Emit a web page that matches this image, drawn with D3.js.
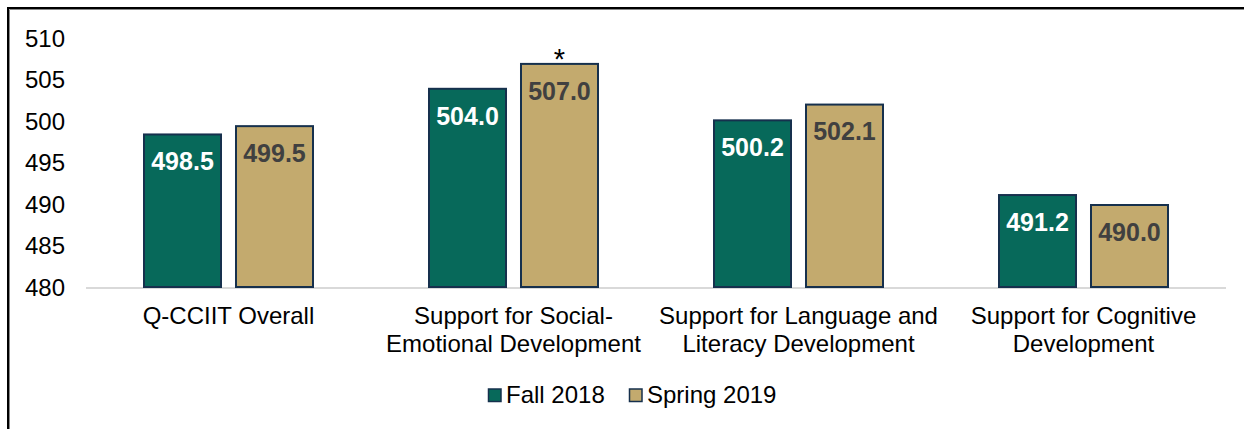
<!DOCTYPE html>
<html>
<head>
<meta charset="utf-8">
<script src="https://cdn.jsdelivr.net/npm/d3@7"></script>
<style>
  html, body { margin: 0; padding: 0; background: #fff; }
  svg { display: block; }
  text { font-family: "Liberation Sans", Arial, sans-serif; }
</style>
</head>
<body>
<svg id="chart" width="1244" height="429"></svg>
<script>
// Q-CCIIT scores by domain, two waves
const categories = [
  ["Q-CCIIT Overall"],
  ["Support for Social-", "Emotional Development"],
  ["Support for Language and", "Literacy Development"],
  ["Support for Cognitive", "Development"]
];
const seriesNames = ["Fall 2018", "Spring 2019"];
const fall2018 = [498.5, 504.0, 500.2, 491.2];
const spring2019 = [499.5, 507.0, 502.1, 490.0];
const significant = [false, true, false, false]; // marked with * on the Spring bar
const yTicks = [480, 485, 490, 495, 500, 505, 510];

const colors = { "Fall 2018": "#07695a", "Spring 2019": "#c3aa6e" };
const labelColors = { "Fall 2018": "#ffffff", "Spring 2019": "#404040" };
const barStroke = "#16304d";
const textSize = 24;

const svg = d3.select("#chart");

// outer frame
svg.append("rect").attr("x", 8).attr("y", 8).attr("width", 1260).attr("height", 450)
  .attr("fill", "none").attr("stroke", "#000").attr("stroke-width", 2);
svg.append("path").attr("d", "M9.5,1244V9.5H1244")
  .attr("fill", "none").attr("stroke", "#888").attr("stroke-width", 1);

const plotLeft = 86, plotRight = 1226;
const y = d3.scaleLinear().domain([480, 510]).range([287, 38]);
const x0 = d3.scaleBand().domain(d3.range(categories.length)).range([plotLeft, plotRight]).padding(0);
const groupW = 171;
const x1 = d3.scaleBand().domain(seriesNames).range([0, groupW]).paddingInner(0.1413).paddingOuter(0);

// y axis labels (no axis line)
const yAxis = d3.axisLeft(y).tickValues(yTicks).tickSize(0).tickPadding(0);
const gy = svg.append("g").attr("transform", "translate(65,0)").call(yAxis);
gy.select(".domain").remove();
gy.selectAll("text").attr("font-size", textSize).attr("fill", "#000")
  .attr("font-family", "'Liberation Sans', Arial, sans-serif").attr("dy", "0.35em");

// baseline
svg.append("line").attr("x1", plotLeft).attr("x2", plotRight)
  .attr("y1", y(480) + 1).attr("y2", y(480) + 1)
  .attr("stroke", "#d9d9d9").attr("stroke-width", 2);

const rows = categories.map((c, i) => ({
  i,
  values: [
    { key: "Fall 2018", v: fall2018[i] },
    { key: "Spring 2019", v: spring2019[i] }
  ]
}));

const groups = svg.selectAll("g.grp").data(rows).join("g")
  .attr("class", "grp")
  .attr("transform", d => `translate(${x0(d.i) + x0.bandwidth() / 2 - groupW / 2},0)`);

groups.selectAll("rect").data(d => d.values).join("rect")
  .attr("x", d => x1(d.key) + 1)
  .attr("y", d => y(d.v) + 1)
  .attr("width", x1.bandwidth() - 2)
  .attr("height", d => y(480) - y(d.v) - 1)
  .attr("fill", d => colors[d.key])
  .attr("stroke", barStroke).attr("stroke-width", 2);

groups.selectAll("text.val").data(d => d.values).join("text")
  .attr("class", "val")
  .attr("x", d => x1(d.key) + x1.bandwidth() / 2)
  .attr("y", d => y(d.v) + 28)
  .attr("dy", "0.35em")
  .attr("text-anchor", "middle")
  .attr("font-size", 25).attr("font-weight", "bold")
  .attr("fill", d => labelColors[d.key])
  .text(d => d3.format(".1f")(d.v));

// significance marker
groups.filter(d => significant[d.i]).append("text")
  .attr("x", x1("Spring 2019") + x1.bandwidth() / 2)
  .attr("y", d => y(d.values[1].v) + 6)
  .attr("text-anchor", "middle")
  .attr("font-size", 29).attr("fill", "#000")
  .text("*");

// category labels
categories.forEach((lines, i) => {
  const cx = x0(i) + x0.bandwidth() / 2;
  const t = svg.append("text")
    .attr("x", cx)
    .attr("y", 324)
    .attr("text-anchor", "middle")
    .attr("font-size", textSize).attr("fill", "#000");
  lines.forEach((ln, k) => {
    t.append("tspan").attr("x", cx)
      .attr("dy", k === 0 ? 0 : 28).text(ln);
  });
});

// legend
const legendItems = [
  { key: "Fall 2018", x: 488 },
  { key: "Spring 2019", x: 629 }
];
const lg = svg.append("g");
legendItems.forEach(it => {
  lg.append("rect").attr("x", it.x + 0.5).attr("y", 389).attr("width", 12.5).attr("height", 12.5)
    .attr("fill", colors[it.key]).attr("stroke", barStroke).attr("stroke-width", 1.5);
  lg.append("text").attr("x", it.x + 18).attr("y", 395).attr("dy", "0.35em")
    .attr("font-size", textSize).attr("fill", "#000").text(it.key);
});
</script>
</body>
</html>
